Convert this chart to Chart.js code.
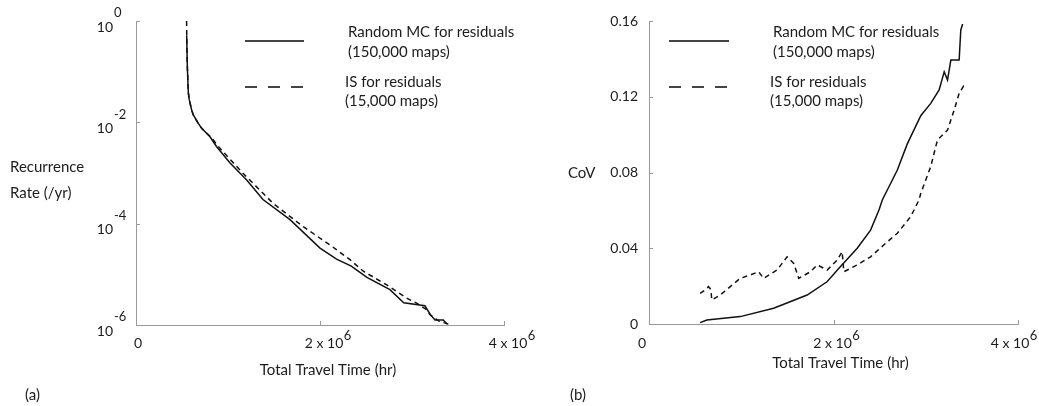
<!DOCTYPE html>
<html>
<head>
<meta charset="utf-8">
<script src="https://cdn.jsdelivr.net/npm/chart.js@4.4.0/dist/chart.umd.min.js"></script>
<style>
  body { margin: 0; background: #fff; width: 1039px; height: 406px; overflow: hidden; position: relative; }
  .box { position: absolute; top: 0; height: 406px; }
  #leftBox { left: 0; width: 540px; }
  #rightBox { left: 540px; width: 499px; }
</style>
</head>
<body>
<div class="box" id="leftBox"><canvas id="rateChart" width="540" height="406"></canvas></div>
<div class="box" id="rightBox"><canvas id="covChart" width="499" height="406"></canvas></div>
<script>
/* DATA */

// (a) recurrence rate vs total travel time
const rateMcTime = [0.551e6, 0.558e6, 0.569e6, 0.579e6, 0.605e6, 0.623e6, 0.677e6, 0.714e6, 0.804e6, 0.877e6,
                    1.02e6, 1.203e6, 1.38e6, 1.674e6, 2.0e6, 2.18e6, 2.34e6, 2.51e6, 2.76e6, 2.91e6,
                    3.14e6, 3.20e6, 3.25e6, 3.34e6, 3.38e6];
const rateMcRate = [0.525, 0.126, 0.038, 0.028, 0.0174, 0.014, 0.0095, 0.0076, 0.0052, 0.0033,
                    0.0016, 7.3e-4, 3.0e-4, 1.2e-4, 3.3e-5, 2.0e-5, 1.45e-5, 8.7e-6, 5.0e-6, 2.75e-6,
                    2.4e-6, 1.6e-6, 1.26e-6, 1.26e-6, 1.05e-6];
const rateIsTime = [0.55e6, 0.553e6, 0.558e6, 0.569e6, 0.579e6, 0.605e6, 0.623e6, 0.677e6, 0.714e6, 0.823e6,
                    0.91e6, 1.16e6, 1.492e6, 1.818e6, 2.109e6, 2.326e6, 2.471e6, 2.725e6, 2.942e6, 3.05e6,
                    3.16e6, 3.196e6, 3.30e6, 3.395e6];
const rateIsRate = [1.0, 0.3, 0.126, 0.038, 0.028, 0.0174, 0.014, 0.0095, 0.0076, 0.0049,
                    0.0031, 1.0e-3, 2.5e-4, 8.7e-5, 3.8e-5, 1.95e-5, 1.15e-5, 6.2e-6, 3.4e-6, 2.7e-6,
                    2.0e-6, 1.6e-6, 1.17e-6, 1.05e-6];

// (b) coefficient of variation vs total travel time
const covMcTime = [0.554e6, 0.627e6, 0.989e6, 1.351e6, 1.714e6, 1.93e6, 2.076e6, 2.257e6, 2.402e6, 2.493e6, 2.529e6,
                   2.692e6, 2.80e6, 2.946e6, 3.054e6, 3.145e6, 3.20e6, 3.236e6, 3.272e6, 3.362e6, 3.38e6, 3.40e6];
const covMcVal  = [0.0007, 0.0021, 0.0039, 0.0083, 0.0153, 0.0223, 0.0303, 0.040, 0.0496, 0.0602, 0.0655,
                   0.0813, 0.0951, 0.110, 0.1165, 0.1236, 0.1332, 0.1288, 0.1394, 0.1394, 0.1553, 0.1584];
const covIsTime = [0.554e6, 0.609e6, 0.645e6, 0.67e6, 0.681e6, 0.772e6, 0.989e6, 1.098e6, 1.188e6, 1.242e6, 1.388e6,
                   1.497e6, 1.569e6, 1.623e6, 1.75e6, 1.823e6, 1.932e6, 2.04e6, 2.094e6, 2.112e6, 2.257e6, 2.402e6,
                   2.565e6, 2.692e6, 2.837e6, 2.927e6, 2.946e6, 3.054e6, 3.127e6, 3.20e6, 3.236e6, 3.308e6, 3.362e6,
                   3.41e6, 3.45e6];
const covIsVal  = [0.0162, 0.0180, 0.0197, 0.0183, 0.0127, 0.0153, 0.0241, 0.0259, 0.0276, 0.0241, 0.0285,
                   0.0355, 0.032, 0.0241, 0.0276, 0.0312, 0.0285, 0.0338, 0.0382, 0.0276, 0.0312, 0.0355,
                   0.0426, 0.0479, 0.0567, 0.0655, 0.069, 0.0831, 0.0972, 0.1007, 0.1024, 0.113, 0.1218,
                   0.1256, 0.1244];

// tick labels
const rateExponents = [0, -2, -4, -6];
const covTicks = [0, 0.04, 0.08, 0.12, 0.16];
const timeTicks = [0, 2e6, 4e6];
const seriesNames = [["Random MC for residuals", "(150,000 maps)"], ["IS for residuals", "(15,000 maps)"]];

const FONT = 'Lato, "Open Sans", sans-serif';
const TEXT = '#1c1c1c';
const AXIS = '#9a9a9a';

function pts(xs, ys) {
    return xs.map((x, i) => ({ x: x, y: ys[i] }));
}

function txt(ctx, s, x, y, align, size) {
    ctx.font = (size || 15) + 'px ' + FONT;
    ctx.fillStyle = TEXT;
    ctx.textAlign = align || 'left';
    ctx.textBaseline = 'middle';
    ctx.fillText(s, x, y);
}

// "2 x 10^6" style label centred on cx
function timeLabel(ctx, v, cx, cy) {
    if (v === 0) { txt(ctx, '0', cx, cy, 'center', 14); return; }
    let base = (v / 1e6) + ' x 10';
    ctx.font = '14px ' + FONT;
    let w = ctx.measureText(base).width;
    txt(ctx, base, cx, cy, 'center', 14);
    txt(ctx, '6', cx + w / 2 + 0.5, cy - 7, 'left', 13);
}

function drawLegend(ctx, x0, x1, tx) {
    ctx.save();
    ctx.strokeStyle = '#444';
    ctx.lineWidth = 2;
    ctx.beginPath(); ctx.moveTo(x0, 41); ctx.lineTo(x1, 41); ctx.stroke();
    ctx.setLineDash([12, 11]);
    ctx.beginPath(); ctx.moveTo(x0, 87); ctx.lineTo(x1, 87); ctx.stroke();
    ctx.restore();
    txt(ctx, seriesNames[0][0], tx + 3, 32);
    txt(ctx, seriesNames[0][1], tx + 3, 52);
    txt(ctx, seriesNames[1][0], tx, 82);
    txt(ctx, seriesNames[1][1], tx, 101);
}

function innerTicks(ctx, chart) {
    const xs = chart.scales.x, ys = chart.scales.y, a = chart.chartArea;
    ctx.save();
    ctx.strokeStyle = AXIS;
    ctx.lineWidth = 1;
    ctx.beginPath();
    timeTicks.forEach(v => {
        let px = Math.round(xs.getPixelForValue(v)) + 0.5;
        ctx.moveTo(px, a.bottom); ctx.lineTo(px, a.bottom - 4);
    });
    let yv = chart.canvas.id === 'rateChart' ? rateExponents.map(e => Math.pow(10, e)) : covTicks;
    yv.forEach(v => {
        let py = Math.round(ys.getPixelForValue(v)) + 0.5;
        ctx.moveTo(a.left, py); ctx.lineTo(a.left + 4, py);
    });
    ctx.stroke();
    ctx.restore();
}

const ratePlugin = {
    id: 'rateDecor',
    afterDraw(chart) {
        const ctx = chart.ctx, xs = chart.scales.x, ys = chart.scales.y;
        innerTicks(ctx, chart);
        rateExponents.forEach(e => {
            let py = ys.getPixelForValue(Math.pow(10, e));
            txt(ctx, '10', 113, py + 6, 'right', 14);
            txt(ctx, String(e), 114, py - 8, 'left', 13);
        });
        timeTicks.forEach(v => timeLabel(ctx, v, xs.getPixelForValue(v) + (v === 0 ? 2 : 4), 343));
        txt(ctx, 'Total Travel Time (hr)', xs.getPixelForValue(2e6) + 8, 370, 'center');
        txt(ctx, 'Recurrence', 10, 167);
        txt(ctx, 'Rate (/yr)', 10, 193);
        txt(ctx, '(a)', 25, 395);
        drawLegend(ctx, 245, 304, 345);
    }
};

const covPlugin = {
    id: 'covDecor',
    afterDraw(chart) {
        const ctx = chart.ctx, xs = chart.scales.x, ys = chart.scales.y;
        innerTicks(ctx, chart);
        covTicks.forEach(v => {
            txt(ctx, v === 0 ? '0' : v.toFixed(2), 98, ys.getPixelForValue(v), 'right', 14);
        });
        timeTicks.forEach(v => timeLabel(ctx, v, xs.getPixelForValue(v) + (v === 0 ? -7 : (v > 3e6 ? -8 : -1)), 343));
        txt(ctx, 'Total Travel Time (hr)', xs.getPixelForValue(2e6) + 7, 363, 'center');
        txt(ctx, 'CoV', 28, 173);
        txt(ctx, '(b)', 30, 395);
        drawLegend(ctx, 129, 189, 230);
    }
};

function lineSet(label, data, dashed) {
    return {
        label: label,
        data: data,
        showLine: true,
        borderColor: '#111',
        borderWidth: 1.5,
        borderDash: dashed ? [5, 4] : [],
        pointRadius: 0,
        tension: 0,
        fill: false
    };
}

function axisOpts(extra) {
    return Object.assign({
        grid: { display: true, drawOnChartArea: false, drawTicks: false },
        border: { display: true, color: AXIS, width: 1 },
        ticks: { display: false }
    }, extra);
}

const CHART1 = document.getElementById("rateChart");
let rateChart = new Chart(CHART1, {
    type: 'scatter',
    data: {
        datasets: [
            lineSet(seriesNames[0].join(' '), pts(rateMcTime, rateMcRate), false),
            lineSet(seriesNames[1].join(' '), pts(rateIsTime, rateIsRate), true)
        ]
    },
    options: {
        responsive: false,
        animation: false,
        layout: { padding: { left: 0, top: 21, right: 36, bottom: 0 } },
        plugins: { legend: { display: false }, tooltip: { enabled: false } },
        scales: {
            x: axisOpts({ type: 'linear', min: 0, max: 4e6, afterFit: s => { s.height = 81; } }),
            y: axisOpts({ type: 'logarithmic', min: 1e-6, max: 1, afterFit: s => { s.width = 136; } })
        }
    },
    plugins: [ratePlugin]
});

const CHART2 = document.getElementById("covChart");
let covChart = new Chart(CHART2, {
    type: 'scatter',
    data: {
        datasets: [
            lineSet(seriesNames[0].join(' '), pts(covMcTime, covMcVal), false),
            lineSet(seriesNames[1].join(' '), pts(covIsTime, covIsVal), true)
        ]
    },
    options: {
        responsive: false,
        animation: false,
        layout: { padding: { left: 0, top: 21, right: 21, bottom: 0 } },
        plugins: { legend: { display: false }, tooltip: { enabled: false } },
        scales: {
            x: axisOpts({ type: 'linear', min: 0, max: 4e6, afterFit: s => { s.height = 82; } }),
            y: axisOpts({ type: 'linear', min: 0, max: 0.16, afterFit: s => { s.width = 109; } })
        }
    },
    plugins: [covPlugin]
});
</script>
</body>
</html>
